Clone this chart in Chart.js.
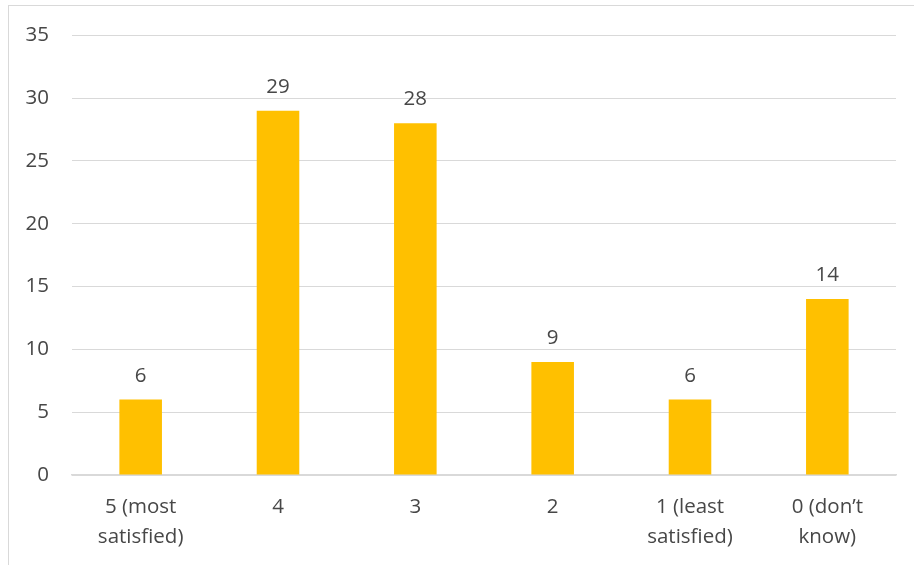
<!DOCTYPE html>
<html>
<head>
<meta charset="utf-8">
<script src="https://cdn.jsdelivr.net/npm/chart.js@4"></script>
<style>
  html, body { margin: 0; padding: 0; background: #fff; }
  #wrap { position: relative; width: 914px; height: 565px; overflow: hidden; }
  #frame { position: absolute; left: 8px; top: 5px; width: 1000px; height: 700px; border: 1px solid #d9d9d9; box-sizing: border-box; }
  #myChart { position: absolute; left: 0; top: 0; }
</style>
</head>
<body>
<div id="wrap">
  <div id="frame"></div>
  <canvas id="myChart" width="914" height="565"></canvas>
</div>
<script>
var categories = [["5 (most", "satisfied)"], "4", "3", "2", ["1 (least", "satisfied)"], ["0 (don\u2019t", "know)"]]
var responses = [6, 29, 28, 9, 6, 14]
var yTicks = [0, 5, 10, 15, 20, 25, 30, 35]

var textColor = '#474747'
var fontFamily = '"Open Sans", "Liberation Sans", sans-serif'

// writes each bar's value just above it
var valueLabels = {
    id: 'valueLabels',
    afterDatasetsDraw(chart) {
        var ctx = chart.ctx
        var meta = chart.getDatasetMeta(0)
        ctx.save()
        ctx.fillStyle = textColor
        ctx.font = '20.5px ' + fontFamily
        ctx.textAlign = 'center'
        ctx.textBaseline = 'alphabetic'
        meta.data.forEach(function (bar, i) {
            ctx.fillText(chart.data.datasets[0].data[i], bar.x, bar.y - 18)
        })
        ctx.restore()
    }
}

var ctx = document.getElementById('myChart').getContext('2d')
var myChart = new Chart(ctx, {
    type: 'bar',
    data: {
        labels: categories,
        datasets: [{
            data: responses,
            backgroundColor: '#FFC000',
            borderWidth: 0,
            categoryPercentage: 1,
            barPercentage: 0.31
        }]
    },
    options: {
        responsive: false,
        animation: false,
        layout: { padding: { top: 34, right: 18, left: 0, bottom: 0 } },
        plugins: {
            legend: { display: false },
            tooltip: { enabled: false }
        },
        scales: {
            y: {
                min: 0,
                max: 35,
                afterBuildTicks: function (axis) {
                    axis.ticks = yTicks.map(function (v) { return { value: v } })
                },
                afterFit: function (axis) { axis.width = 72 },
                grid: { color: '#d9d9d9', lineWidth: 1, drawTicks: false },
                border: { display: false },
                ticks: { color: textColor, font: { size: 20.5, family: fontFamily }, padding: 23 }
            },
            x: {
                afterFit: function (axis) { axis.height = 90 },
                grid: { display: false },
                border: { color: '#d9d9d9', width: 1.5 },
                ticks: { color: textColor, font: { size: 20.5, family: fontFamily, lineHeight: 1.42 }, padding: 10, maxRotation: 0 }
            }
        }
    },
    plugins: [valueLabels]
})
</script>
</body>
</html>
